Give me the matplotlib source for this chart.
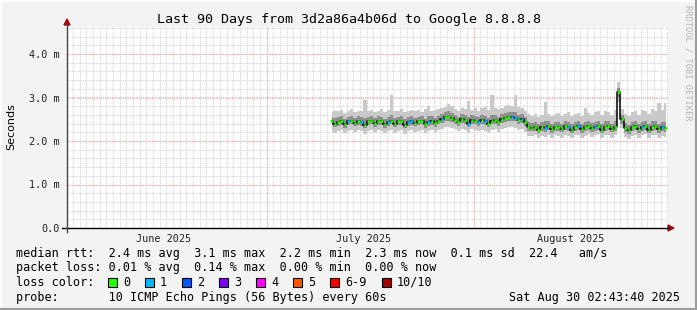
import numpy as np
import matplotlib
matplotlib.use("Agg")
import matplotlib.pyplot as plt
import matplotlib.dates as mdates
from matplotlib.patches import Rectangle, Polygon
from matplotlib.lines import Line2D
from datetime import datetime, timedelta

# ---------------- data ----------------
start_time = datetime(2025, 6, 1, 2, 43, 40)
end_time = datetime(2025, 8, 30, 2, 43, 40)
data_start = datetime(2025, 7, 10, 18, 0)
step_hours = 12

median = [2.45, 2.40, 2.44, 2.46, 2.38, 2.45, 2.47, 2.42, 2.46, 2.44,
          2.37, 2.45, 2.47, 2.41, 2.46, 2.45, 2.38, 2.44, 2.47, 2.40,
          2.45, 2.46, 2.37, 2.44, 2.46, 2.42, 2.45, 2.47, 2.38, 2.44,
          2.46, 2.41, 2.47, 2.50, 2.55, 2.56, 2.53, 2.49, 2.44, 2.50,
          2.48, 2.40, 2.49, 2.47, 2.44, 2.48, 2.46, 2.40, 2.47, 2.49,
          2.43, 2.50, 2.53, 2.55, 2.56, 2.54, 2.48, 2.50, 2.44, 2.33,
          2.31, 2.33, 2.26, 2.32, 2.30, 2.34, 2.27, 2.33, 2.32, 2.28,
          2.34, 2.32, 2.26, 2.33, 2.34, 2.27, 2.32, 2.35, 2.29, 2.33,
          2.35, 2.26, 2.33, 2.34, 2.28, 2.33, 3.12, 2.50, 2.30, 2.25,
          2.32, 2.34, 2.27, 2.33, 2.35, 2.26, 2.33, 2.34, 2.27, 2.32,
          2.30]

smoke_hi = [2.66, 2.70, 2.68, 2.72, 2.65, 2.69, 2.74, 2.67, 2.70, 2.68,
            2.95, 2.69, 2.72, 2.66, 2.70, 2.73, 2.67, 2.71, 3.05, 2.68,
            2.70, 2.74, 2.66, 2.69, 2.72, 2.68, 2.71, 2.67, 2.73, 2.80,
            2.69, 2.72, 2.74, 2.76, 2.78, 2.85, 2.80, 2.74, 2.70, 2.76,
            2.74, 2.93, 2.72, 2.76, 2.70, 2.75, 2.78, 2.72, 3.06, 2.76,
            2.73, 2.77, 2.80, 2.82, 2.80, 3.06, 2.78, 2.76, 2.70, 2.62,
            2.58, 2.62, 2.56, 2.60, 2.90, 2.63, 2.57, 2.62, 2.64, 2.58,
            2.63, 2.66, 2.57, 2.62, 2.65, 2.58, 2.75, 2.64, 2.60, 2.66,
            2.68, 2.59, 2.70, 2.66, 2.60, 2.72, 3.36, 2.74, 2.62, 2.58,
            2.66, 2.70, 2.60, 2.72, 2.68, 2.62, 2.74, 2.70, 2.88, 2.72,
            2.88]

smoke_lo = [2.24, 2.19, 2.23, 2.25, 2.18, 2.24, 2.26, 2.21, 2.25, 2.23,
            2.17, 2.24, 2.26, 2.20, 2.25, 2.24, 2.18, 2.23, 2.26, 2.19,
            2.24, 2.25, 2.17, 2.23, 2.25, 2.21, 2.24, 2.26, 2.18, 2.23,
            2.25, 2.20, 2.26, 2.28, 2.32, 2.33, 2.30, 2.27, 2.22, 2.28,
            2.26, 2.19, 2.27, 2.25, 2.22, 2.26, 2.24, 2.19, 2.25, 2.27,
            2.21, 2.28, 2.31, 2.32, 2.33, 2.31, 2.26, 2.28, 2.20, 2.12,
            2.11, 2.13, 2.06, 2.12, 2.10, 2.14, 2.07, 2.13, 2.12, 2.08,
            2.14, 2.12, 2.06, 2.13, 2.14, 2.07, 2.12, 2.15, 2.09, 2.13,
            2.15, 2.06, 2.13, 2.14, 2.08, 2.13, 2.90, 2.30, 2.10, 2.05,
            2.12, 2.14, 2.07, 2.13, 2.15, 2.06, 2.13, 2.14, 2.07, 2.12,
            2.10]

dark_lo = [2.36, 2.32, 2.35, 2.37, 2.30, 2.36, 2.38, 2.34, 2.37, 2.35,
           2.29, 2.36, 2.38, 2.33, 2.37, 2.36, 2.30, 2.35, 2.38, 2.32,
           2.36, 2.37, 2.29, 2.35, 2.37, 2.34, 2.36, 2.38, 2.30, 2.35,
           2.37, 2.33, 2.38, 2.41, 2.46, 2.47, 2.44, 2.40, 2.35, 2.41,
           2.39, 2.32, 2.40, 2.38, 2.35, 2.39, 2.37, 2.32, 2.38, 2.40,
           2.34, 2.41, 2.44, 2.46, 2.47, 2.45, 2.39, 2.41, 2.35, 2.24,
           2.22, 2.24, 2.18, 2.23, 2.21, 2.25, 2.19, 2.24, 2.23, 2.20,
           2.25, 2.23, 2.18, 2.24, 2.25, 2.19, 2.23, 2.26, 2.21, 2.24,
           2.26, 2.18, 2.24, 2.25, 2.20, 2.24, 3.02, 2.40, 2.21, 2.17,
           2.23, 2.25, 2.19, 2.24, 2.26, 2.18, 2.24, 2.25, 2.19, 2.23,
           2.21]

dark_hi = [2.56, 2.53, 2.55, 2.57, 2.51, 2.56, 2.58, 2.54, 2.57, 2.55,
           2.52, 2.56, 2.58, 2.53, 2.57, 2.56, 2.51, 2.55, 2.60, 2.52,
           2.56, 2.57, 2.50, 2.55, 2.57, 2.54, 2.56, 2.58, 2.51, 2.57,
           2.57, 2.53, 2.58, 2.61, 2.66, 2.68, 2.64, 2.60, 2.56, 2.61,
           2.59, 2.55, 2.60, 2.58, 2.55, 2.59, 2.57, 2.52, 2.60, 2.60,
           2.55, 2.61, 2.64, 2.66, 2.67, 2.66, 2.59, 2.61, 2.55, 2.44,
           2.42, 2.44, 2.38, 2.43, 2.45, 2.45, 2.39, 2.44, 2.43, 2.40,
           2.45, 2.43, 2.38, 2.44, 2.45, 2.39, 2.44, 2.46, 2.41, 2.44,
           2.46, 2.38, 2.45, 2.45, 2.40, 2.45, 3.22, 2.60, 2.41, 2.37,
           2.43, 2.45, 2.39, 2.44, 2.46, 2.38, 2.45, 2.45, 2.40, 2.44,
           2.43]

# samples with 1 lost ping (others 0)
loss_one_idx = [5, 9, 17, 23, 24, 29, 33, 41, 44, 46, 54, 55, 57,
                64, 71, 74, 79, 93, 99]

y_ticks = [0, 1, 2, 3, 4]
y_tick_labels = ["0.0", "1.0 m", "2.0 m", "3.0 m", "4.0 m"]
month_labels = ["June 2025", "July 2025", "August 2025"]
month_label_dates = [datetime(2025, 6, 15, 12), datetime(2025, 7, 15, 12),
                     datetime(2025, 8, 15, 12)]
month_starts = [datetime(2025, 7, 1), datetime(2025, 8, 1)]

loss_names = ["0", "1", "2", "3", "4", "5", "6-9", "10/10"]
loss_colors = ["#26ff00", "#00b8ff", "#0059ff", "#7e00ff", "#ff00ff",
               "#ff5500", "#ff0000", "#a10000"]

title = "Last 90 Days from 3d2a86a4b06d to Google 8.8.8.8"
legend_lines = [
    "median rtt:  2.4 ms avg  3.1 ms max  2.2 ms min  2.3 ms now  0.1 ms sd  22.4   am/s",
    "packet loss: 0.01 % avg  0.14 % max  0.00 % min  0.00 % now",
    "loss color:",
    "probe:       10 ICMP Echo Pings (56 Bytes) every 60s",
]
timestamp = "Sat Aug 30 02:43:40 2025"

# ---------------- figure ----------------
W, H = 697, 310
MONO = "DejaVu Sans Mono"


def fx(x):
    return x / W


def fy(y):
    return 1 - y / H


fig = plt.figure(figsize=(W / 100, H / 100), dpi=100, facecolor="#f3f3f3")

L, R, T, B = 67, 668, 27, 228
ax = fig.add_axes([fx(L), fy(B), (R - L) / W, (B - T) / H])
ax.set_facecolor("white")
x0 = mdates.date2num(start_time)
x1 = mdates.date2num(end_time)
ax.set_xlim(x0, x1)
ymax = (B - T) / 43.5
ax.set_ylim(0, ymax)
for s in ax.spines.values():
    s.set_visible(False)

# grid
minor_c = "#d4d4d4"
major_c = "#f0a8a8"
d = datetime(2025, 6, 2)
while d < end_time:
    ax.axvline(mdates.date2num(d), color=minor_c, lw=0.8, ls=(0, (1, 1)), zorder=0)
    d += timedelta(days=1)
for v in np.arange(0.2, ymax, 0.2):
    ax.axhline(v, color=minor_c, lw=0.8, ls=(0, (1, 1)), zorder=0)
for m in month_starts:
    ax.axvline(mdates.date2num(m), color=major_c, lw=0.8, ls=(0, (1, 1)), zorder=1)
for v in y_ticks[1:]:
    ax.axhline(v, color=major_c, lw=0.8, ls=(0, (1, 1)), zorder=1)

# data
n = len(median)
times = [data_start + timedelta(hours=step_hours * i) for i in range(n)]
xs = mdates.date2num(times)
half = step_hours / 48.0
ax.fill_between(xs, smoke_lo, smoke_hi, step="mid", color="#c9c9c9", lw=0, zorder=2)
ax.fill_between(xs, dark_lo, dark_hi, step="mid", color="#8f8f8f", lw=0, zorder=3)
ax.plot(xs, median, drawstyle="steps-mid", color="black", lw=1.1, zorder=4)
cols = [loss_colors[1] if i in loss_one_idx else loss_colors[0] for i in range(n)]
ax.hlines(median, xs - half * 0.8, xs + half * 0.8, colors=cols, lw=1.8, zorder=5)

# ticks
ax.set_yticks(y_ticks)
ax.set_yticklabels(y_tick_labels, family=MONO, fontsize=7.3, color="#222222")
ax.set_xticks(mdates.date2num(month_label_dates))
ax.set_xticklabels(month_labels, family=MONO, fontsize=7.3, color="#222222")
ax.tick_params(axis="y", length=0, pad=5)
ax.tick_params(axis="x", length=0, pad=4)

# axes lines and arrows
fig.add_artist(Line2D([fx(62), fx(669)], [fy(B), fy(B)], color="black", lw=1.0))
fig.add_artist(Line2D([fx(L), fx(L)], [fy(232), fy(25)], color="#444444", lw=1.0))
arrow_c = "#a01010"
fig.add_artist(Polygon([[fx(668), fy(B - 3)], [fx(668), fy(B + 3)], [fx(674), fy(B)]],
                       closed=True, color=arrow_c, transform=fig.transFigure))
fig.add_artist(Polygon([[fx(L - 3), fy(25)], [fx(L + 3), fy(25)], [fx(L), fy(19)]],
                       closed=True, color=arrow_c, transform=fig.transFigure))

# texts
fig.text(fx(349), fy(19), title, family=MONO, fontsize=9.6, ha="center", va="center",
         color="black")
fig.text(fx(11), fy(127), "Seconds", family="DejaVu Sans", fontsize=8, rotation=90,
         ha="center", va="center", color="black")
fig.text(fx(688), fy(5), "RRDTOOL / TOBI OETIKER", family=MONO, fontsize=6.2,
         rotation=270, ha="center", va="top", color="#b4b4b4")

line_y = [254, 268, 282, 297]
for txt, yy in zip(legend_lines, line_y):
    fig.text(fx(16), fy(yy), txt, family=MONO, fontsize=8.5, ha="left", va="center",
             color="black")
fig.text(fx(680), fy(297), timestamp, family=MONO, fontsize=8.5, ha="right",
         va="center", color="black")

box_x = [108, 145, 182, 219, 256, 293, 330, 382]
for bx, name, c in zip(box_x, loss_names, loss_colors):
    fig.add_artist(Rectangle((fx(bx), fy(286.5)), 9 / W, 9 / H, facecolor=c,
                             edgecolor="black", lw=0.8, transform=fig.transFigure))
    fig.text(fx(bx + 15), fy(282), name, family=MONO, fontsize=8.5, ha="left",
             va="center", color="black")

# 3D frame
fig.add_artist(Line2D([0, 1], [fy(0.5), fy(0.5)], color="white", lw=1.5))
fig.add_artist(Line2D([fx(0.5), fx(0.5)], [0, 1], color="white", lw=1.5))
fig.add_artist(Line2D([0, 1], [fy(308.5), fy(308.5)], color="#9c9c9c", lw=2.2))
fig.add_artist(Line2D([fx(695.5), fx(695.5)], [0, 1], color="#9c9c9c", lw=2.2))

fig.savefig("out.png", dpi=100, facecolor=fig.get_facecolor())
